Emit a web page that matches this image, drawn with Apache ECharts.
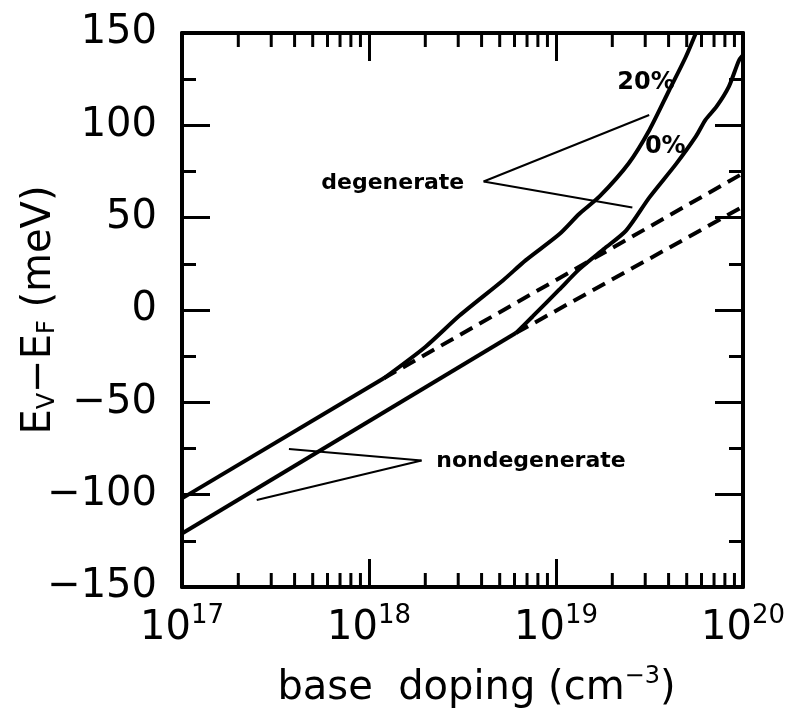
<!DOCTYPE html>
<html>
<head>
<meta charset="utf-8">
<script src="https://cdn.jsdelivr.net/npm/echarts@6/dist/echarts.min.js"></script>
<style>
  html, body { margin: 0; padding: 0; background: #fff; }
  #chart { width: 793px; height: 723px; }
</style>
</head>
<body>
<div id="chart"></div>
<script>
// Axis ranges
const dopingMin = 1e17, dopingMax = 1e20;
const energyMin = -150, energyMax = 150, energyStep = 50;

// 20% curve: nondegenerate (straight) part and degenerate part
const ndDoping20 = [1e17, 1.2e18];
const ndEnergy20 = [-102, -37];
const degDoping20 = [1.2e18, 2.0e18, 3.05e18, 5.2e18, 6.9e18, 1.04e19, 1.33e19, 1.71e19, 2.45e19, 3.16e19, 4.03e19, 4.94e19, 5.6e19];
const degEnergy20 = [-37, -20, -3, 16, 27, 41, 52, 61.5, 79.5, 97.5, 119, 137, 150];

// 0% curve: nondegenerate (straight) part and degenerate part
const ndDoping0 = [1e17, 6.1e18];
const ndEnergy0 = [-121, -12.5];
const degDoping0 = [6.1e18, 7.5e18, 1.04e19, 1.33e19, 1.8e19, 2.37e19, 3.16e19, 4.38e19, 5.6e19, 6.3e19, 7.2e19, 8.4e19, 9.5e19, 1e20];
const degEnergy0 = [-12.5, -3.5, 11, 22, 33, 43, 61, 79, 94, 103, 110, 121, 135, 138];

// Nondegenerate approximation continued into the degenerate range (dashed)
const extDoping20 = [1.2e18, 1e20];
const extEnergy20 = [-37, 74];
const extDoping0 = [6.1e18, 1e20];
const extEnergy0 = [-12.5, 56];

// Annotation texts and their anchor points (doping, energy)
const noteTexts = ['degenerate', 'nondegenerate', '20%', '0%'];
const noteDoping = [1.34e18, 7.35e18, 3.03e19, 3.84e19];
const noteEnergy = [68.8, -81.8, 122.9, 88.3];
const noteSizes = [22, 22, 24, 24];

// Leader lines from each label to the curves
const leaderFrom = [[4.1e18, 69.6], [4.1e18, 69.6], [1.91e18, -81.5], [1.91e18, -81.5]];
const leaderTo = [[3.15e19, 105.6], [2.56e19, 55.5], [3.73e17, -75.3], [2.51e17, -102.9]];

// Minor ticks of the logarithmic doping axis (2..9 in each decade)
const decades = [1e17, 1e18, 1e19];
const minorMultipliers = [2, 3, 4, 5, 6, 7, 8, 9];
const minorTickValues = [];
decades.forEach(d => minorMultipliers.forEach(m => minorTickValues.push([m * d, energyMin])));

const FONT = 'DejaVu Sans';
const zip = (xs, ys) => xs.map((x, i) => [x, ys[i]]);

const solid = { color: '#000', width: 4 };
const dashed = { color: '#000', width: 4, type: [14, 8] };

function lineSeries(name, xs, ys, style, smooth) {
  return {
    name, type: 'line', data: zip(xs, ys), symbol: 'none',
    smooth: smooth || false, lineStyle: style, clip: true, z: 3
  };
}

const logAxisBase = {
  type: 'log', logBase: 10, min: dopingMin, max: dopingMax,
  axisLine: { show: true, onZero: false, lineStyle: { color: '#000', width: 4 } },
  axisTick: { show: true, inside: true, length: 28, lineStyle: { color: '#000', width: 3 } },
  splitLine: { show: false }, minorTick: { show: false }, minorSplitLine: { show: false }
};

const valueAxisBase = {
  type: 'value', min: energyMin, max: energyMax, interval: energyStep,
  axisLine: { show: true, onZero: false, lineStyle: { color: '#000', width: 4 } },
  axisTick: { show: true, inside: true, length: 28, lineStyle: { color: '#000', width: 3 } },
  minorTick: { show: true, splitNumber: 2, length: 14, lineStyle: { color: '#000', width: 3 } },
  splitLine: { show: false }, minorSplitLine: { show: false }
};

const chart = echarts.init(document.getElementById('chart'), null, { renderer: 'canvas' });

chart.setOption({
  animation: false,
  backgroundColor: '#fff',
  grid: { left: 182, right: 50, top: 33, bottom: 136, containLabel: false, outerBoundsMode: 'none' },
  xAxis: [
    Object.assign({}, logAxisBase, {
      position: 'bottom',
      axisLabel: {
        show: true, margin: 16, showMinLabel: true, showMaxLabel: true,
        formatter: v => '{b|10}{s|' + Math.round(Math.log10(v)) + '}',
        rich: {
          b: { fontSize: 40, fontFamily: FONT, color: '#000', lineHeight: 46, verticalAlign: 'bottom' },
          s: { fontSize: 26, fontFamily: FONT, color: '#000', lineHeight: 26, verticalAlign: 'top' }
        }
      },
      name: '{t|base  doping (cm}{s|−3}{t|)}',
      nameLocation: 'middle', nameGap: 78,
      nameTextStyle: {
        padding: [0, 0, 0, 28],
        rich: {
          t: { fontSize: 40, fontFamily: FONT, color: '#000', lineHeight: 44, verticalAlign: 'bottom' },
          s: { fontSize: 24, fontFamily: FONT, color: '#000', lineHeight: 24, verticalAlign: 'top' }
        }
      }
    }),
    Object.assign({}, logAxisBase, { position: 'top', axisLabel: { show: false } })
  ],
  yAxis: [
    Object.assign({}, valueAxisBase, {
      position: 'left',
      axisLabel: {
        show: true, margin: 25, fontSize: 40, fontFamily: FONT, color: '#000',
        showMinLabel: true, showMaxLabel: true,
        formatter: v => (v < 0 ? '\u2212' + Math.abs(v) : String(v))
      },
      name: '{e|E}{d|V}{e|\u2212E}{d|F}{e| (meV)}',
      nameLocation: 'middle', nameGap: 122, nameRotate: 90, nameMoveOverlap: false,
      nameTextStyle: {
        rich: {
          e: { fontSize: 40, fontFamily: FONT, color: '#000', lineHeight: 44, verticalAlign: 'bottom' },
          d: { fontSize: 24, fontFamily: FONT, color: '#000', lineHeight: 8, verticalAlign: 'bottom' }
        }
      }
    }),
    Object.assign({}, valueAxisBase, { position: 'right', axisLabel: { show: false } })
  ],
  series: [
    lineSeries('20% nondegenerate', ndDoping20, ndEnergy20, solid),
    lineSeries('20% degenerate', degDoping20, degEnergy20, solid, 0.25),
    lineSeries('0% nondegenerate', ndDoping0, ndEnergy0, solid),
    lineSeries('0% degenerate', degDoping0, degEnergy0, solid, 0.25),
    lineSeries('20% nondegenerate (extended)', extDoping20, extEnergy20, dashed),
    lineSeries('0% nondegenerate (extended)', extDoping0, extEnergy0, dashed),
    {
      name: 'leaders', type: 'lines', coordinateSystem: 'cartesian2d',
      xAxisIndex: 0, yAxisIndex: 0, polyline: false, silent: true, z: 4,
      lineStyle: { color: '#000', width: 2, curveness: 0, opacity: 1 },
      data: leaderFrom.map((p, i) => ({ coords: [p, leaderTo[i]] }))
    },
    {
      name: 'notes', type: 'custom', coordinateSystem: 'cartesian2d', silent: true, z: 5,
      data: zip(noteDoping, noteEnergy),
      renderItem: (params, api) => {
        const p = api.coord([api.value(0), api.value(1)]);
        return {
          type: 'text', x: p[0], y: p[1],
          style: {
            text: noteTexts[params.dataIndex], fill: '#000',
            font: 'bold ' + noteSizes[params.dataIndex] + 'px "' + FONT + '"',
            align: 'center', verticalAlign: 'middle'
          }
        };
      }
    },
    {
      name: 'minor ticks', type: 'custom', coordinateSystem: 'cartesian2d', silent: true, z: 6,
      data: minorTickValues, clip: false,
      renderItem: (params, api) => {
        const b = api.coord([api.value(0), energyMin]);
        const t = api.coord([api.value(0), energyMax]);
        const st = { stroke: '#000', lineWidth: 3 };
        return {
          type: 'group',
          children: [
            { type: 'line', shape: { x1: b[0], y1: b[1], x2: b[0], y2: b[1] - 14 }, style: st },
            { type: 'line', shape: { x1: t[0], y1: t[1], x2: t[0], y2: t[1] + 14 }, style: st }
          ]
        };
      }
    }
  ]
});
</script>
</body>
</html>
